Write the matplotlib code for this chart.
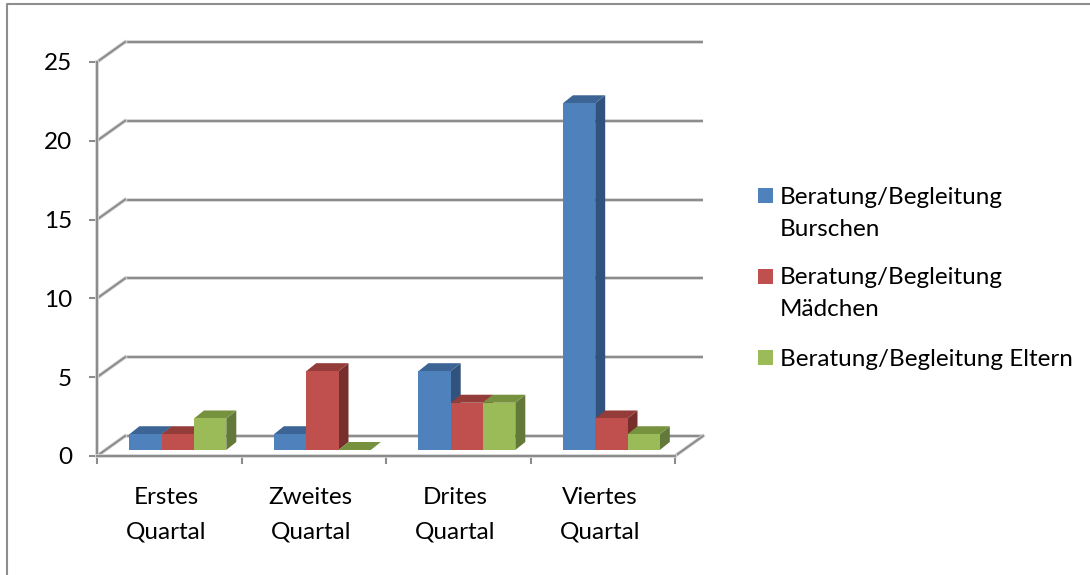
import matplotlib
matplotlib.use("Agg")
import matplotlib.pyplot as plt
import matplotlib.patheffects as pe
from matplotlib.patches import Rectangle
from matplotlib.lines import Line2D

plt.rcParams['font.family'] = ['Lato', 'DejaVu Sans']

quartale = [["Erstes", "Quartal"], ["Zweites", "Quartal"], ["Drites", "Quartal"], ["Viertes", "Quartal"]]
burschen = [1, 1, 5, 22]
maedchen = [1, 5, 3, 2]
eltern = [2, 0, 3, 1]
y_ticks = [0, 5, 10, 15, 20, 25]
legend_zeilen = [["Beratung/Begleitung", "Burschen"], ["Beratung/Begleitung", "Mädchen"], ["Beratung/Begleitung Eltern"]]

# front, top, side
farben = [("#4F81BD", "#3C6494", "#30527D"),
          ("#C0504D", "#943C39", "#772F2C"),
          ("#9BBB59", "#76923F", "#62793A")]
GRAU = "#8C8C8C"
LW = 1.5
FS = 17.5

W, H = 1090, 575
fig = plt.figure(figsize=(W / 100, H / 100), dpi=100)

def fx(x):
    return x / W
def fy(y):
    return 1 - y / H

ax = fig.add_axes([fx(97), fy(456), 578 / W, 394 / H])
ax.set_xlim(0, 4)
ax.set_ylim(0, 25)
ax.patch.set_visible(False)

PX_X = 4 / 578    # one pixel in category units
PX_Y = 25 / 394   # one pixel in value units
wand_dx, wand_dy = 28 * PX_X, 20 * PX_Y
boden_dx, boden_dy = 8.4 * PX_X, 6 * PX_Y
tiefe_dx, tiefe_dy = 10 * PX_X, 8 * PX_Y
breite = 32.3 * PX_X
luecke = 24 * PX_X

# soft light rim around the gray lines
saum = [pe.Stroke(linewidth=LW + 1.2, foreground="#D8D8D8"), pe.Normal()]

# back wall lines and the slanted side wall
for y in y_ticks:
    ax.plot([wand_dx, 4 + wand_dx], [y + wand_dy, y + wand_dy], color=GRAU, lw=LW, clip_on=False, zorder=1,
            solid_capstyle='butt', path_effects=saum)
    ax.plot([0, wand_dx], [y, y + wand_dy], color=GRAU, lw=LW, clip_on=False, zorder=1, path_effects=saum)
ax.plot([4, 4 + wand_dx], [0, wand_dy], color=GRAU, lw=LW, clip_on=False, zorder=1, path_effects=saum)

# 3D bars: front from ax.bar, top and side as parallelograms
for s, werte in enumerate([burschen, maedchen, eltern]):
    front, top, side = farben[s]
    for i, v in enumerate(werte):
        x0 = i + boden_dx + luecke + s * breite
        z = 3 + s * 0.01 + i
        oben = boden_dy + v
        ax.fill([x0, x0 + tiefe_dx, x0 + breite + tiefe_dx, x0 + breite],
                [oben, oben + tiefe_dy, oben + tiefe_dy, oben], color=top, lw=0, zorder=z + 0.001, clip_on=False)
        if v > 0:
            ax.fill([x0 + breite, x0 + breite + tiefe_dx, x0 + breite + tiefe_dx, x0 + breite],
                    [boden_dy, boden_dy + tiefe_dy, oben + tiefe_dy, oben], color=side, lw=0, zorder=z, clip_on=False)
        ax.bar(x0, v, breite, bottom=boden_dy, align='edge', color=front, zorder=z + 0.002, clip_on=False, lw=0)

for name in ["top", "right"]:
    ax.spines[name].set_visible(False)
for name in ["left", "bottom"]:
    ax.spines[name].set_color(GRAU)
    ax.spines[name].set_linewidth(LW)
    ax.spines[name].set_zorder(2)
    ax.spines[name].set_path_effects(saum)

ax.set_xticks(range(5))
ax.set_xticklabels([])
ax.set_yticks(y_ticks)
ax.tick_params(axis='x', color=GRAU, width=LW, length=5.5)
ax.tick_params(axis='y', color=GRAU, width=LW, length=6, pad=12, labelsize=FS, labelcolor="black")

# two-line category labels
for i, zeilen in enumerate(quartale):
    for k, zeile in enumerate(zeilen):
        ax.annotate(zeile, (i + 0.5, 0), xytext=(-3, -42 - 34.5 * k), textcoords='offset pixels',
                    ha='center', va='center', fontsize=FS, color="black", annotation_clip=False)

# legend, one swatch per series
legend_y = [195, 276, 357]
for (front, _, _), zeilen, y in zip(farben, legend_zeilen, legend_y):
    fig.add_artist(Rectangle((fx(758), fy(y + 8)), 15 / W, 15 / H, transform=fig.transFigure, color=front, lw=0))
    for k, zeile in enumerate(zeilen):
        fig.text(fx(780), fy(y + 2 + 32 * k), zeile, ha='left', va='center', fontsize=FS, color="black")

# chart frame, running off the right and bottom edge
fig.add_artist(Line2D([fx(7), fx(7), 1], [0, fy(4), fy(4)], transform=fig.transFigure, color="#8E8E8E", lw=LW))

fig.savefig("out.png", dpi=100)
